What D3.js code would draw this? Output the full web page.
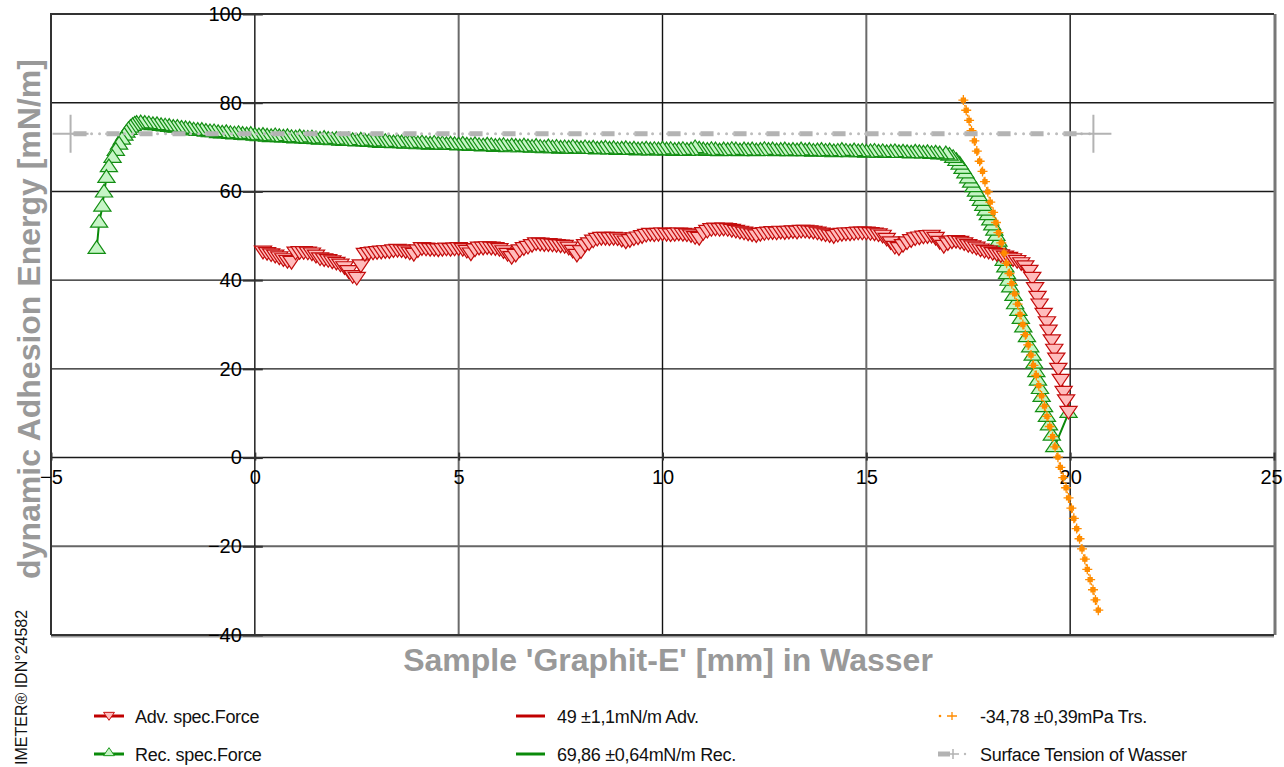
<!DOCTYPE html>
<html>
<head>
<meta charset="utf-8">
<script src="https://cdn.jsdelivr.net/npm/d3@7"></script>
<style>
  body { margin: 0; background: #fff; }
  svg { display: block; }
</style>
</head>
<body>
<div id="chart"></div>
<script>
// Data (mm, mN/m)
// Rec. spec.Force, in drawing order (the scan runs right to left)
const recData = [
  [19.96,10.0],[19.61,2.3],[19.55,4.9],[19.48,7.2],[19.43,9.1],[19.36,11.3],[19.30,13.6],[19.26,15.4],
  [19.21,17.3],[19.17,19.2],[19.12,21.1],[19.08,22.9],[19.02,24.8],[18.94,27.1],[18.85,29.3],[18.79,31.2],
  [18.73,33.0],[18.65,34.5],[18.61,36.4],[18.53,38.3],[18.49,39.8],[18.45,41.3],[18.41,42.8],[18.37,44.3],
  [18.33,45.8],[18.29,47.2],[18.24,48.6],[18.19,49.9],[18.14,51.1],[18.09,52.3],[18.04,53.4],[17.98,54.6],
  [17.93,55.6],[17.87,56.7],[17.81,57.8],[17.75,58.9],[17.69,59.9],[17.63,60.9],[17.57,61.9],[17.50,62.9],
  [17.43,64.0],[17.36,65.0],[17.29,66.0],[17.21,66.8],[17.13,67.5],[17.04,68.0],[16.95,68.3],
  [16.8,68.3],[16.7,68.5],[16.6,68.4],[16.5,68.6],[16.4,68.5],[16.3,68.6],[16.2,68.7],[16.1,68.5],
  [16.0,68.6],[15.9,68.7],[15.8,68.6],[15.7,68.8],[15.6,68.7],[15.5,68.6],[15.4,68.8],[15.3,68.7],
  [15.2,68.9],[15.1,68.8],[15.0,68.7],[14.9,68.9],[14.8,68.8],[14.7,69.0],[14.6,68.8],[14.5,68.9],
  [14.4,69.1],[14.3,68.9],[14.2,68.8],[14.1,69.0],[14.0,68.9],[13.9,69.1],[13.8,69.0],[13.7,68.9],
  [13.6,69.1],[13.5,69.0],[13.4,69.2],[13.3,69.0],[13.2,69.1],[13.1,69.0],[13.0,69.2],[12.9,69.1],
  [12.8,69.0],[12.7,69.2],[12.6,69.1],[12.5,69.3],[12.4,69.1],[12.3,69.0],[12.2,69.2],[12.1,69.1],
  [12.0,69.2],[11.9,69.0],[11.8,69.2],[11.7,69.3],[11.6,69.1],[11.5,69.2],[11.4,69.0],[11.3,69.2],
  [11.2,69.3],[11.1,69.1],[11.0,69.2],[10.9,69.4],[10.8,69.7],[10.7,69.2],[10.6,69.1],[10.5,69.3],
  [10.4,69.2],[10.3,69.1],[10.2,69.3],[10.1,69.2],[10.0,69.4],[9.9,69.2],[9.8,69.3],[9.7,69.2],
  [9.6,69.4],[9.5,69.3],[9.4,69.2],[9.3,69.4],[9.2,69.3],[9.1,69.5],[9.0,69.4],[8.9,69.3],
  [8.8,69.5],[8.7,69.4],[8.6,69.6],[8.5,69.5],[8.4,69.4],[8.3,69.6],[8.2,69.5],[8.1,69.7],
  [8.0,69.5],[7.9,69.6],[7.8,69.8],[7.7,69.6],[7.6,69.7],[7.5,69.6],[7.4,69.8],[7.3,69.7],
  [7.2,69.9],[7.1,69.7],[7.0,69.8],[6.9,70.0],[6.8,69.8],[6.7,69.9],[6.6,70.1],[6.5,69.9],
  [6.4,70.0],[6.3,70.1],[6.2,69.9],[6.1,70.2],[6.0,70.1],[5.9,70.0],[5.8,70.2],[5.7,70.3],
  [5.6,70.1],[5.5,70.2],[5.4,70.4],[5.3,70.2],[5.2,70.3],[5.1,70.5],[5.0,70.3],[4.9,70.4],
  [4.8,70.5],[4.7,70.4],[4.6,70.6],[4.5,70.5],[4.4,70.7],[4.3,70.5],[4.2,70.6],[4.1,70.8],
  [4.0,70.6],[3.9,70.7],[3.8,70.9],[3.7,70.7],[3.6,70.8],[3.5,71.0],[3.4,70.8],[3.3,70.9],
  [3.2,71.1],[3.1,70.9],[3.0,71.0],[2.9,71.2],[2.8,71.1],[2.7,71.2],[2.6,71.4],[2.5,71.2],
  [2.4,71.3],[2.3,71.5],[2.2,71.3],[2.1,71.4],[2.0,71.6],[1.9,71.5],[1.8,71.6],[1.7,71.8],
  [1.6,71.6],[1.5,71.7],[1.4,71.9],[1.3,71.8],[1.2,71.9],[1.1,72.1],[1.0,71.9],[0.9,72.0],
  [0.8,72.2],[0.7,72.1],[0.6,72.2],[0.5,72.4],[0.4,72.2],[0.3,72.3],[0.2,72.5],[0.1,72.4],
  [0.0,72.5],[-0.1,72.7],[-0.2,72.6],[-0.3,72.7],[-0.4,72.9],[-0.5,72.8],[-0.6,72.9],[-0.7,73.1],
  [-0.8,73.0],[-0.9,73.1],[-1.0,73.3],[-1.1,73.3],[-1.2,73.4],[-1.3,73.6],[-1.4,73.6],[-1.5,73.7],
  [-1.6,73.9],[-1.7,74.0],[-1.8,74.1],[-1.9,74.3],[-2.0,74.3],[-2.1,74.5],[-2.2,74.6],[-2.3,74.7],
  [-2.4,74.9],[-2.5,74.9],[-2.6,75.1],[-2.7,75.2],[-2.8,75.3],
  [-2.9,75.2],[-2.95,75.0],[-3.0,74.7],[-3.05,74.3],[-3.1,73.8],[-3.15,73.2],[-3.2,72.5],[-3.26,71.6],
  [-3.33,70.5],[-3.41,69.1],[-3.49,67.5],[-3.58,65.4],[-3.64,63.0],[-3.70,59.7],[-3.74,56.5],[-3.82,52.9],
  [-3.88,47.0]
]

// Adv. spec.Force, in drawing order (left to right)
const advData = [
  [0.2,46.7],[0.3,46.4],[0.4,46.1],[0.5,45.8],[0.6,45.4],[0.7,45.0],[0.8,44.6],[0.9,44.4],
  [1.0,46.5],[1.1,46.6],[1.2,46.6],[1.3,46.5],[1.4,46.3],[1.5,45.8],[1.6,45.2],[1.7,45.0],
  [1.8,44.8],[1.9,44.5],[2.0,44.2],[2.1,43.8],[2.2,43.2],[2.3,42.3],[2.4,41.2],[2.5,40.8],
  [2.6,43.6],[2.7,46.2],[2.8,46.4],[2.9,46.5],[3.0,46.6],[3.1,46.7],[3.2,46.8],[3.3,46.8],
  [3.4,47.0],[3.5,47.1],[3.6,47.0],[3.7,46.8],[3.8,46.5],[3.9,46.2],[4.0,47.0],[4.1,47.5],
  [4.2,47.4],[4.3,47.3],[4.4,47.3],[4.5,47.2],[4.6,47.3],[4.7,47.4],[4.8,47.3],[4.9,47.4],
  [5.0,47.5],[5.1,47.3],[5.2,46.9],[5.3,46.3],[5.4,47.2],[5.5,47.6],[5.6,47.6],[5.7,47.7],
  [5.8,47.6],[5.9,47.5],[6.0,47.3],[6.1,46.8],[6.2,46.2],[6.3,45.5],[6.4,46.0],[6.5,47.0],
  [6.6,47.5],[6.7,47.8],[6.8,48.2],[6.9,48.6],[7.0,48.5],[7.1,48.4],[7.2,48.4],[7.3,48.3],
  [7.4,48.2],[7.5,48.1],[7.6,48.0],[7.7,47.6],[7.8,46.9],[7.9,46.0],[8.0,46.8],[8.1,48.2],
  [8.2,48.6],[8.3,49.2],[8.4,49.6],[8.5,49.8],[8.6,49.8],[8.7,49.7],[8.8,49.8],[8.9,49.7],
  [9.0,49.4],[9.1,49.0],[9.2,49.3],[9.3,49.7],[9.4,49.9],[9.5,50.2],[9.6,50.5],[9.7,50.7],
  [9.8,50.6],[9.9,50.7],[10.0,50.8],[10.1,50.7],[10.2,50.6],[10.3,50.7],[10.4,50.8],[10.5,50.7],
  [10.6,50.6],[10.7,50.4],[10.8,50.0],[10.9,49.8],[11.0,50.9],[11.1,51.4],[11.2,51.8],[11.3,51.9],
  [11.4,51.8],[11.5,51.9],[11.6,51.8],[11.7,51.6],[11.8,51.4],[11.9,51.2],[12.0,51.0],[12.1,50.8],
  [12.2,50.6],[12.3,50.4],[12.4,50.7],[12.5,50.9],[12.6,51.0],[12.7,51.1],[12.8,51.0],[12.9,51.2],
  [13.0,51.1],[13.1,51.2],[13.2,51.3],[13.3,51.2],[13.4,51.4],[13.5,51.4],[13.6,51.3],[13.7,51.2],
  [13.8,51.0],[13.9,50.8],[14.0,50.6],[14.1,50.4],[14.2,50.2],[14.3,50.5],[14.4,50.7],[14.5,50.8],
  [14.6,50.8],[14.7,50.9],[14.8,51.0],[14.9,51.0],[15.0,51.0],[15.1,50.9],[15.2,50.8],[15.3,50.6],
  [15.4,50.3],[15.5,49.6],[15.6,48.8],[15.7,47.8],[15.8,47.5],[15.9,48.2],[16.0,48.8],[16.1,49.3],
  [16.2,49.7],[16.3,49.9],[16.4,50.1],[16.5,50.2],[16.6,50.3],[16.7,49.8],[16.8,48.9],[16.9,48.0],
  [17.0,48.6],[17.1,49.0],[17.2,49.1],[17.3,48.9],[17.4,48.6],[17.5,48.2],[17.6,47.9],[17.7,47.6],
  [17.8,47.2],[17.9,46.9],[18.0,46.7],[18.1,46.4],[18.2,46.2],[18.3,45.9],[18.4,45.6],[18.5,45.3],
  [18.6,45.0],[18.7,44.6],[18.8,44.1],[18.9,43.4],[19.0,42.4],[19.07,40.8],[19.14,38.5],[19.20,36.5],
  [19.25,34.8],[19.35,32.7],[19.43,30.8],[19.47,28.9],[19.55,26.7],[19.61,24.6],[19.66,22.6],[19.71,20.3],
  [19.77,17.8],[19.84,15.1],[19.90,13.2],[19.96,10.6]
]

// -34,78 mPa Trs. (transition fit)
const trsData = [
  [17.38,80.6],[17.45,78.3],[17.52,76.0],[17.58,73.7],[17.65,71.4],[17.71,69.1],[17.78,66.8],[17.85,64.5],
  [17.91,62.2],[17.98,59.9],[18.04,57.6],[18.11,55.3],[18.18,53.0],[18.24,50.7],[18.31,48.4],[18.38,46.1],
  [18.44,43.8],[18.51,41.5],[18.57,39.2],[18.64,36.9],[18.71,34.6],[18.77,32.3],[18.84,30.0],[18.90,27.7],
  [18.97,25.4],[19.04,23.1],[19.10,20.8],[19.17,18.5],[19.23,16.2],[19.30,13.9],[19.37,11.6],[19.43,9.3],
  [19.50,7.0],[19.57,4.7],[19.63,2.4],[19.70,0.1],[19.76,-2.2],[19.83,-4.5],[19.90,-6.8],[19.96,-9.1],
  [20.03,-11.4],[20.09,-13.7],[20.16,-16.0],[20.23,-18.3],[20.29,-20.6],[20.36,-22.9],[20.42,-25.2],[20.49,-27.5],
  [20.56,-29.8],[20.62,-32.1],[20.69,-34.4]
]

// Surface Tension of Wasser
const surfaceX = [-4.52, 20.57]
const surfaceY = 73.0

const xTicks = [-5, 0, 5, 10, 15, 20, 25]
const yTicks = [-40, -20, 0, 20, 40, 60, 80, 100]
const legendLabels = [
  'Adv. spec.Force', 'Rec. spec.Force',
  '49 ±1,1mN/m Adv.', '69,86 ±0,64mN/m Rec.',
  '-34,78 ±0,39mPa Trs.', 'Surface Tension of Wasser'
]

function draw() {
  const font = "'Liberation Sans', Arial, sans-serif"
  const plot = { left: 51, right: 1274, top: 14, bottom: 635 }

  const svg = d3.select('#chart')
    .append('svg')
    .attr('width', 1284)
    .attr('height', 767)

  // Scales
  const xScale = d3.scaleLinear().domain([-5, 25]).range([plot.left, plot.right])
  const yScale = d3.scaleLinear().domain([-40, 100]).range([plot.bottom, plot.top])
  const x0 = xScale(0)
  const y0 = yScale(0)

  // Grid
  const grid = svg.append('g')
  grid.selectAll('.hgrid')
    .data(yTicks.slice(1, -1))
    .join('line')
    .attr('x1', plot.left).attr('x2', plot.right)
    .attr('y1', d => yScale(d)).attr('y2', d => yScale(d))
    .attr('stroke', d => d === -20 ? '#666' : '#1a1a1a')
    .attr('stroke-width', d => d === -20 ? 2 : 1.4)
  grid.selectAll('.vgrid')
    .data(xTicks.slice(1, -1))
    .join('line')
    .attr('y1', plot.top).attr('y2', plot.bottom)
    .attr('x1', d => xScale(d)).attr('x2', d => xScale(d))
    .attr('stroke', d => d % 10 === 5 ? '#6a6a6a' : '#111')
    .attr('stroke-width', d => d % 10 === 5 ? 2 : 1.4)

  // Frame
  grid.append('line')
    .attr('x1', plot.left).attr('x2', plot.right).attr('y1', plot.bottom + 1.5).attr('y2', plot.bottom + 1.5)
    .attr('stroke', '#999').attr('stroke-width', 2)
  grid.append('line')
    .attr('x1', plot.right + 1).attr('x2', plot.right + 1).attr('y1', plot.top).attr('y2', plot.bottom)
    .attr('stroke', '#777').attr('stroke-width', 3)
  grid.append('path')
    .attr('d', `M${plot.left},${plot.bottom}V${plot.top}H${plot.right}M${plot.left},${plot.bottom}H${plot.right}`)
    .attr('fill', 'none').attr('stroke', '#333').attr('stroke-width', 2)

  // Axes
  const yAxis = d3.axisLeft(yScale).tickValues(yTicks).tickSize(0).tickPadding(13)
  const yAxisGroup = svg.append('g')
    .attr('transform', `translate(${x0},0)`)
    .call(yAxis)
    .attr('font-size', 20).attr('font-family', font)
  yAxisGroup.select('.domain').remove()
  yAxisGroup.selectAll('.tick line')
    .attr('x1', -12).attr('x2', 8).attr('stroke', '#333').attr('stroke-width', 2)
  yAxisGroup.selectAll('text').attr('fill', '#000')

  const xAxis = d3.axisBottom(xScale).tickValues(xTicks).tickSize(0).tickPadding(12)
  const xAxisGroup = svg.append('g')
    .attr('transform', `translate(0,${y0})`)
    .call(xAxis)
    .attr('font-size', 20).attr('font-family', font)
  xAxisGroup.select('.domain').remove()
  xAxisGroup.selectAll('.tick line')
    .attr('y1', -5).attr('y2', 3).attr('stroke', '#333').attr('stroke-width', 2)
  xAxisGroup.selectAll('text').attr('fill', '#000')
    .attr('dx', d => d === 25 ? -3 : 0)

  // Axis titles
  svg.append('text')
    .attr('transform', `translate(40,319) rotate(-90)`)
    .attr('text-anchor', 'middle')
    .attr('font-family', font).attr('font-weight', 'bold').attr('font-size', 32)
    .attr('fill', '#999')
    .text('dynamic Adhesion Energy [mN/m]')
  svg.append('text')
    .attr('x', 668).attr('y', 671)
    .attr('text-anchor', 'middle')
    .attr('font-family', font).attr('font-weight', 'bold').attr('font-size', 32)
    .attr('fill', '#999')
    .text("Sample 'Graphit-E' [mm] in Wasser")
  svg.append('text')
    .attr('transform', `translate(27,765) rotate(-90)`)
    .attr('text-anchor', 'start')
    .attr('font-family', font).attr('font-size', 16)
    .attr('fill', '#111')
    .text('IMETER® IDN°24582')

  // Triangle marker: 2/3 of height above centre, 1/3 below
  const triangle = {
    draw(context, size) {
      const h = Math.sqrt(size)
      context.moveTo(0, -h * 2 / 3)
      context.lineTo(h * 0.68, h / 3)
      context.lineTo(-h * 0.68, h / 3)
      context.closePath()
    }
  }
  const triPath = d3.symbol().type(triangle).size(160)()
  const triSmall = d3.symbol().type(triangle).size(64)()

  const lineGenerator = d3.line()
    .x(d => xScale(d[0]))
    .y(d => yScale(d[1]))

  // Rec. spec.Force (green)
  const rec = svg.append('g')
  rec.append('path')
    .datum(recData)
    .attr('d', lineGenerator)
    .attr('fill', 'none').attr('stroke', '#0a8a0a').attr('stroke-width', 2)
  rec.selectAll('path.m')
    .data(recData)
    .join('path')
    .attr('class', 'm')
    .attr('d', triPath)
    .attr('transform', d => `translate(${xScale(d[0])},${yScale(d[1])})`)
    .attr('fill', '#c6f5c6').attr('stroke', '#138e13').attr('stroke-width', 1.2)

  // Adv. spec.Force (red)
  const adv = svg.append('g')
  adv.append('path')
    .datum(advData)
    .attr('d', lineGenerator)
    .attr('fill', 'none').attr('stroke', '#c00000').attr('stroke-width', 2)
  adv.selectAll('path.m')
    .data(advData)
    .join('path')
    .attr('class', 'm')
    .attr('d', triPath)
    .attr('transform', d => `translate(${xScale(d[0])},${yScale(d[1])}) rotate(180)`)
    .attr('fill', '#ffbcbc').attr('stroke', '#c40c0c').attr('stroke-width', 1.2)

  // Transition fit (orange)
  const trs = svg.append('g')
  trs.append('path')
    .datum(trsData)
    .attr('d', lineGenerator)
    .attr('fill', 'none').attr('stroke', '#ff8c00').attr('stroke-width', 1.5)
    .attr('stroke-dasharray', '2,3')
  trs.selectAll('path.m')
    .data(trsData)
    .join('path')
    .attr('class', 'm')
    .attr('d', 'M-5,0H5M0,-5V5M-2,-2H2V2H-2Z')
    .attr('transform', d => `translate(${xScale(d[0])},${yScale(d[1])})`)
    .attr('fill', '#ff8c00').attr('stroke', '#ff8c00').attr('stroke-width', 1.3)

  // Surface tension (grey dash-dot-dot)
  const surf = svg.append('g')
  const sx1 = xScale(surfaceX[0])
  const sx2 = xScale(surfaceX[1])
  const sy = yScale(surfaceY)
  surf.append('line')
    .attr('x1', sx1).attr('x2', sx2).attr('y1', sy).attr('y2', sy)
    .attr('stroke', '#b3b3b3').attr('stroke-width', 5)
    .attr('stroke-dasharray', '13 20').attr('stroke-dashoffset', -3)
  surf.append('line')
    .attr('x1', sx1).attr('x2', sx2).attr('y1', sy).attr('y2', sy)
    .attr('stroke', '#bdbdbd').attr('stroke-width', 3).attr('stroke-linecap', 'round')
    .attr('stroke-dasharray', '0 18 0 8 0 7').attr('stroke-dashoffset', -3)
  surf.selectAll('path.m')
    .data(surfaceX)
    .join('path')
    .attr('class', 'm')
    .attr('d', 'M-18,0H18M0,-19V19')
    .attr('transform', d => `translate(${xScale(d)},${sy})`)
    .attr('stroke', '#b3b3b3').attr('stroke-width', 2)

  // Legend
  const colX = [94, 516, 938]
  const textX = [135, 557, 980]
  const rowY = [716, 754]
  const legend = svg.append('g')
  legend.selectAll('text')
    .data(legendLabels)
    .join('text')
    .attr('x', (d, i) => textX[Math.floor(i / 2)])
    .attr('y', (d, i) => rowY[i % 2] + 7)
    .attr('font-family', font).attr('font-size', 18).attr('letter-spacing', -0.3)
    .attr('fill', '#111')
    .text(d => d)

  const swatchLine = (x1, x2, y, color, w) => legend.append('line')
    .attr('x1', x1).attr('x2', x2).attr('y1', y).attr('y2', y)
    .attr('stroke', color).attr('stroke-width', w)

  swatchLine(colX[0], colX[0] + 30, rowY[0], '#c00000', 3)
  legend.append('path').attr('d', triSmall)
    .attr('transform', `translate(${colX[0] + 15},${rowY[0] - 1}) rotate(180)`)
    .attr('fill', '#ffbcbc').attr('stroke', '#c81010')
  swatchLine(colX[0], colX[0] + 30, rowY[1], '#0a8a0a', 3)
  legend.append('path').attr('d', triSmall)
    .attr('transform', `translate(${colX[0] + 15},${rowY[1] - 1})`)
    .attr('fill', '#c6f5c6').attr('stroke', '#1f9a1f')
  swatchLine(colX[1], colX[1] + 29, rowY[0], '#c00000', 3)
  swatchLine(colX[1], colX[1] + 29, rowY[1], '#0a8a0a', 3)

  legend.append('circle').attr('cx', colX[2] + 2).attr('cy', rowY[0]).attr('r', 1.3).attr('fill', '#ff8c00')
  legend.append('path').attr('d', 'M-5,0H5M0,-4V4')
    .attr('transform', `translate(${colX[2] + 14},${rowY[0]})`)
    .attr('stroke', '#ff8c00').attr('stroke-width', 1.3)
  swatchLine(colX[2], colX[2] + 12, rowY[1], '#b3b3b3', 5)
  legend.append('path').attr('d', 'M-6,0H6M0,-5V5')
    .attr('transform', `translate(${colX[2] + 15},${rowY[1]})`)
    .attr('stroke', '#b3b3b3').attr('stroke-width', 1.5)
  legend.append('circle').attr('cx', colX[2] + 27).attr('cy', rowY[1]).attr('r', 1.2).attr('fill', '#bbb')
}

draw()
</script>
</body>
</html>
